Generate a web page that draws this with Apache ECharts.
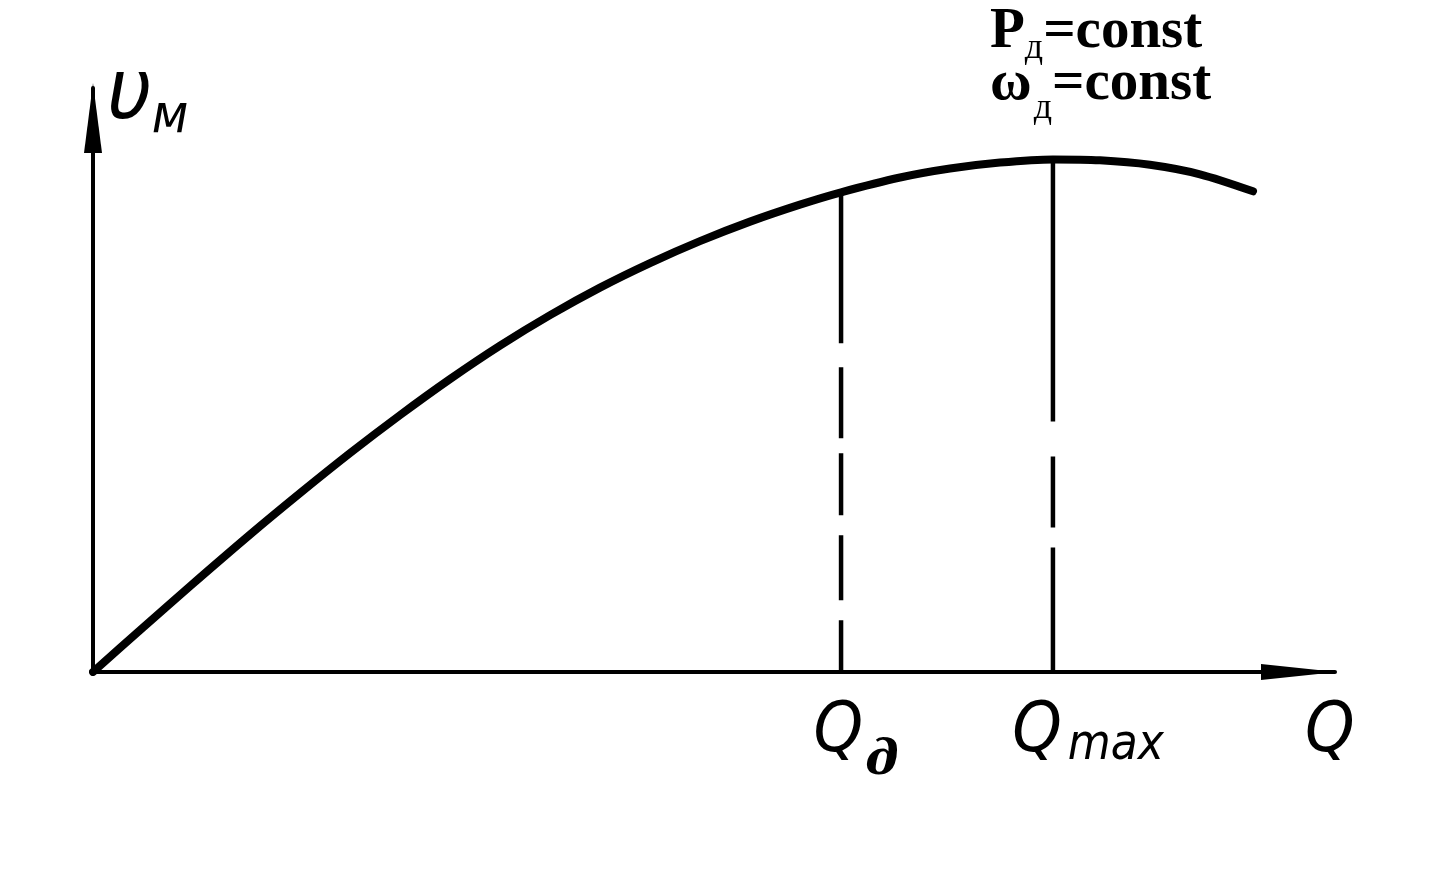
<!DOCTYPE html>
<html>
<head>
<meta charset="utf-8">
<script src="https://cdn.jsdelivr.net/npm/echarts@6/dist/echarts.min.js"></script>
<style>
  html, body { margin: 0; padding: 0; background: #fff; }
  #chart { width: 1456px; height: 870px; }
</style>
</head>
<body>
<div id="chart"></div>
<script>
// Flow Q (relative units) and motor speed v_м (relative units)
const qValues = [0, 3.78, 7.81, 12.64, 16.67, 20.69, 24.72, 28.74, 32.77, 36.80, 40.82, 44.85, 48.87, 52.90, 56.92, 60.23, 64.98, 69.00, 73.03, 77.29, 81.08, 85.10, 89.13, 93.40];
const vValues = [0, 7.16, 14.69, 23.53, 30.63, 37.48, 43.99, 50.15, 55.89, 61.11, 65.82, 70.02, 73.78, 77.12, 80.03, 82.14, 84.67, 86.21, 87.23, 87.77, 87.62, 86.85, 85.22, 82.31];

// Marked flows: Q_д and Q_max, with the curve value at each
const markSub = ['д', 'max'];
const markQ = [60.23, 77.29];
const markV = [82.14, 87.77];
// hand-drawn dash patterns of the two drop lines (from the curve downwards)
const markDash = [[151, 24, 71, 15, 62, 20, 65, 20, 60], [262, 35, 71, 20, 130]];

const titleLines = ['{b|P}{s|д}{b|=const}', '{b|ω}{s2|д}{b|=const}'];

const hand = '"DejaVu Sans Condensed", "Liberation Sans Narrow", "DejaVu Sans", sans-serif';

const curve = qValues.map((q, i) => [q, vValues[i]]);

const dropSeries = markQ.map((q, i) => ({
  type: 'line',
  silent: true,
  symbol: 'none',
  lineStyle: { color: '#000', width: 4.5, type: markDash[i] },
  data: [[q, markV[i]], [q, 0]],
  z: 1
}));

const qRich = {
  q: { fontFamily: hand, fontStyle: 'italic', fontSize: 70, color: '#000', lineHeight: 62, verticalAlign: 'top', padding: [4, 0, 0, 0] },
  g: { fontFamily: '"DejaVu Serif", "Liberation Serif", serif', fontStyle: 'italic', fontWeight: 'bold', fontSize: 48,
       color: '#000', lineHeight: 40, verticalAlign: 'top', padding: [44, 0, 0, 2] },
  m: { fontFamily: hand, fontStyle: 'italic', fontSize: 49, color: '#000', lineHeight: 40, verticalAlign: 'top', padding: [28, 0, 0, 6] }
};
const labelPad = [[0, 0, 0, 30], [0, 0, 0, 70]];

const labelSeries = {
  type: 'scatter',
  silent: true,
  symbolSize: 0,
  itemStyle: { color: '#000', opacity: 1 },
  data: markQ.map((q, i) => ({
    value: [q, 0],
    label: {
      show: true,
      position: 'bottom',
      distance: 22,
      color: '#000',
      padding: labelPad[i],
      formatter: i === 0 ? '{q|Q}{g|' + markSub[i] + '}' : '{q|Q}{m|' + markSub[i] + '}',
      rich: qRich
    }
  })),
  z: 5
};

const option = {
  backgroundColor: '#fff',
  animation: false,
  grid: { left: 93, right: 121, top: 88, bottom: 198 },
  xAxis: {
    type: 'value', min: 0, max: 100,
    axisLine: { show: true, onZero: false, symbol: ['none', 'triangle'], symbolSize: [16, 76], symbolOffset: [0, -36],
                lineStyle: { color: '#000', width: 4 } },
    axisTick: { show: false }, axisLabel: { show: false }, splitLine: { show: false },
    name: 'Q', nameLocation: 'end', nameGap: -30,
    nameTextStyle: { fontFamily: hand, fontStyle: 'italic', fontSize: 70, color: '#000', verticalAlign: 'top', padding: [26, 0, 0, 0] }
  },
  yAxis: {
    type: 'value', min: 0, max: 100,
    axisLine: { show: true, onZero: false, symbol: ['none', 'triangle'], symbolSize: [18, 70], symbolOffset: [0, -30],
                lineStyle: { color: '#000', width: 4 } },
    axisTick: { show: false }, axisLabel: { show: false }, splitLine: { show: false },
    name: '{v|υ}{m|м}', nameLocation: 'end', nameGap: -52,
    nameTextStyle: {
      align: 'left', padding: [0, 0, 0, 14],
      rich: {
        v: { fontFamily: hand, fontStyle: 'italic', fontSize: 86, color: '#000', lineHeight: 70, verticalAlign: 'bottom' },
        m: { fontFamily: hand, fontStyle: 'italic', fontSize: 54, color: '#000', lineHeight: 40, verticalAlign: 'bottom', padding: [0, 0, -5, 0] }
      }
    }
  },
  graphic: [{
    type: 'text', left: 990, top: 4,
    style: {
      text: titleLines.join('\n'),
      rich: {
        b: { fontFamily: '"Liberation Serif", serif', fontWeight: 'bold', fontSize: 57, lineHeight: 52, color: '#000', verticalAlign: 'bottom' },
        s: { fontFamily: '"Liberation Serif", serif', fontSize: 36, lineHeight: 20, color: '#000', verticalAlign: 'bottom', padding: [0, 0, -6, 0] },
        s2: { fontFamily: '"Liberation Serif", serif', fontSize: 36, lineHeight: 20, color: '#000', verticalAlign: 'bottom', padding: [0, 0, -14, 2] }
      }
    }
  }],
  series: [{
    type: 'line',
    silent: true,
    symbol: 'none',
    smooth: 0.3,
    lineStyle: { color: '#000', width: 8, cap: 'round' },
    data: curve,
    z: 3
  }].concat(dropSeries, [labelSeries])
};

const chart = echarts.init(document.getElementById('chart'), null, { renderer: 'canvas' });
chart.setOption(option);
</script>
</body>
</html>
